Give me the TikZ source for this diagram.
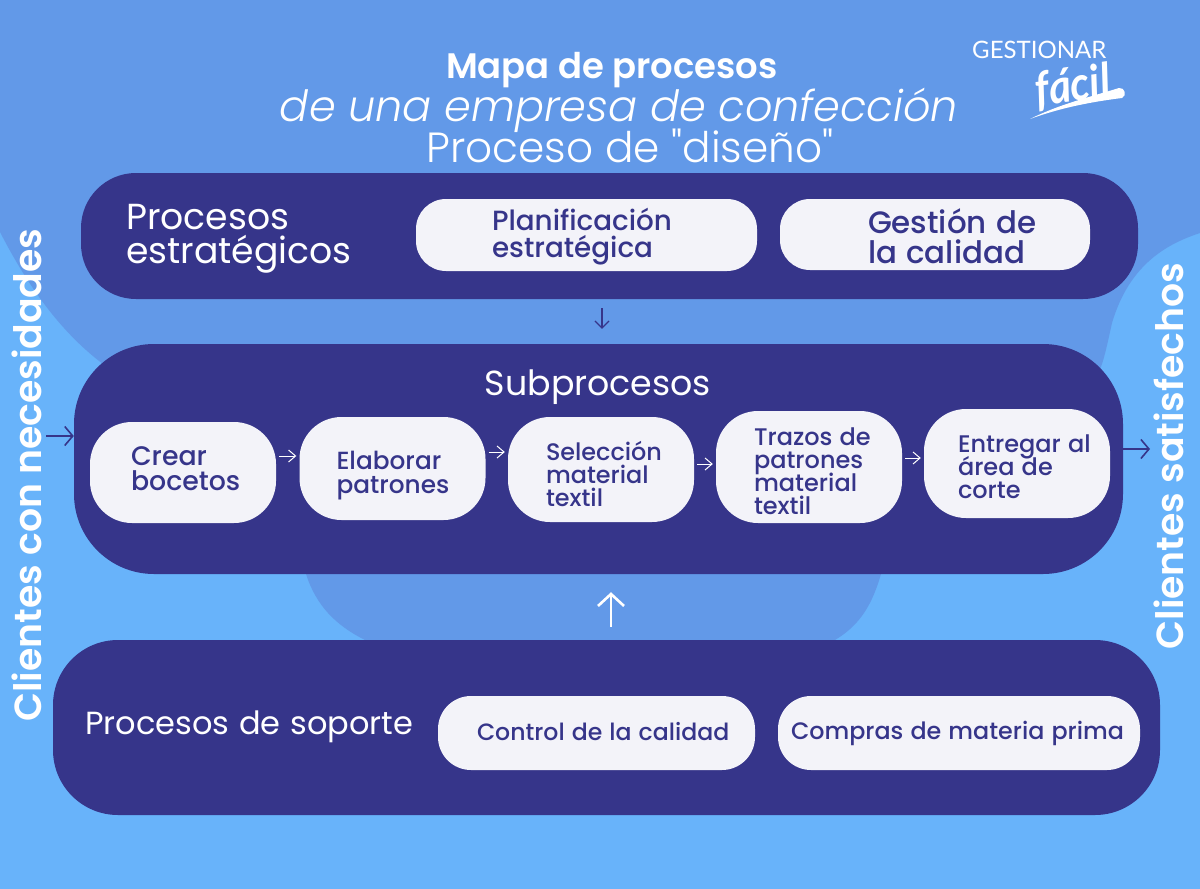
\documentclass[tikz,border=0pt]{standalone}
\usepackage{fontspec}
\usetikzlibrary{arrows.meta}
\setmainfont{Poppins}[WordSpace=1.15]
\newfontfamily\popl{Poppins}[UprightFont=* Light,ItalicFont=* Light Italic,BoldFont=* Regular]
\newfontfamily\popm{Poppins}[UprightFont=* Medium,WordSpace=1.15]
\newfontfamily\pops{Poppins}[UprightFont=* SemiBold]
\newfontfamily\logofont{Lato}
\definecolor{navy}{HTML}{36358A}
\definecolor{paper}{HTML}{F3F3F9}
\definecolor{sky}{HTML}{68B3FA}
\definecolor{mid}{HTML}{6299E8}
\newcommand{\fs}[2]{\fontsize{#1}{#2}\selectfont}
% width, left pad, vertical lift, lines
\newcommand{\lbl}[4]{\makebox[#1pt][l]{\hspace*{#2pt}\raisebox{#3pt}[0pt][0pt]{\begin{minipage}[c]{\dimexpr#1pt-#2pt\relax}\lineskiplimit=-100pt\raggedright #4\end{minipage}}}}
\tikzset{
  container/.style n args={3}{fill=navy,rounded corners=#3,inner sep=0pt,minimum width=#1,minimum height=#2},
  pill/.style n args={3}{fill=paper,text=navy,rounded corners=#3,inner sep=0pt,minimum width=#1,minimum height=#2,font=\popm},
  head/.style={text=white,inner sep=0pt,align=left,anchor=west},
  vtext/.style={text=white,inner sep=0pt,rotate=90,font=\pops\fs{37.8}{38}},
  small/.style={-{Straight Barb[length=7pt,width=12pt,line width=1pt]},white,line width=1pt,shorten >=3pt,shorten <=3pt},
  big/.style={-{Straight Barb[length=8pt,width=19pt,line width=1.6pt]},navy,line width=1.6pt},
}
\begin{document}
\begin{tikzpicture}[x=1pt,y=-1pt]
\useasboundingbox (0,0) rectangle (1200,889);
% background
\fill[sky] (0,0) rectangle (1200,889);
\fill[mid] (0,0) -- (1200,0) -- (1200,233) .. controls (1170,243) and (1130,262) .. (1112,323) .. controls (1106,350) and (1104,360) .. (1098,375)
  -- (1000,450) -- (150,450) -- (107,367) .. controls (70,340) and (35,300) .. (0,232) -- cycle;
\fill[mid] (300,560) -- (306,574) .. controls (316,605) and (335,625) .. (365,640) -- (835,640) .. controls (860,625) and (872,605) .. (881,574) -- (885,560) -- cycle;
% containers
\node[container={1057pt}{126pt}{55pt}] (strat) at (609.5,236) {};
\node[container={1049pt}{230pt}{80pt}] (sub) at (598.5,459) {};
\node[container={1107pt}{175pt}{65pt}] (sop) at (606.5,727.5) {};
% title
\node[text=white,inner sep=0pt] (t1) at (612,70) {\pops\fs{35.4}{36}Mapa de procesos};
\node[text=white,inner sep=0pt] (t2) at (619,110) {\popl\itshape\fs{43}{44}de una empresa de confección};
\node[text=white,inner sep=0pt] (t3) at (630,146) {\popl\fs{42.2}{44}Proceso de "diseño"};
% logo
\node[text=white,inner sep=0pt,anchor=base west] (lg) at (972,58) {\logofont\fs{24}{24}GESTIONAR};
\node[text=white,inner sep=0pt,rotate=8,xscale=.9] (lf) at (1073,87) {\logofont\bfseries\itshape\fs{47}{47}fácil};
\fill[white] (1030,119) .. controls (1060,104) and (1090,97) .. (1119,88) .. controls (1125,87) and (1127,96) .. (1122,98) .. controls (1090,102) and (1060,108) .. (1030,119) -- cycle;
% headings
\node[head,font=\fs{36.2}{34}] (hs) at (126,239) {Procesos\\estratégicos};
\node[text=white,inner sep=0pt,font=\fs{34.8}{34}] (hu) at (598,387) {Subprocesos};
\node[head,font=\fs{32}{30}] (ho) at (85,727) {Procesos de soporte};
% strategic pills
\node[pill={341pt}{72pt}{30pt}] (plan) at (586.5,235) {\fs{27.8}{27}\lbl{341}{76}{-7.5}{Planificación\\estratégica}};
\node[pill={310pt}{71pt}{30pt}] (gest) at (935,234.5) {\fs{30.9}{30}\lbl{310}{88}{-8}{Gestión de\\la calidad}};
% subprocess pills
\node[pill={186pt}{101pt}{42pt}] (crear) at (183,472.5) {\fs{26.8}{25}\lbl{186}{41}{-2}{Crear\\bocetos}};
\node[pill={186pt}{103pt}{42pt}] (elab) at (392.5,468.5) {\fs{24.8}{24}\lbl{186}{37}{-13}{Elaborar\\patrones}};
\node[pill={186pt}{105pt}{42pt}] (sel) at (601,469.5) {\fs{23.9}{23}\lbl{186}{38}{-11}{Selección\\material\\textil}};
\node[pill={186pt}{112pt}{42pt}] (traz) at (809,467) {\fs{24}{23}\lbl{186}{38}{-10}{Trazos de\\patrones\\material\\textil}};
\node[pill={186pt}{109pt}{42pt}] (entr) at (1017,463.5) {\fs{24}{23}\lbl{186}{34}{-9}{Entregar al\\área de\\corte}};
% support pills
\node[pill={317pt}{74pt}{33pt}] (ctrl) at (596.5,733) {\fs{23.6}{24}\lbl{317}{39}{-5}{Control de la calidad}};
\node[pill={362pt}{74pt}{33pt}] (comp) at (959,733) {\fs{23.8}{24}\lbl{362}{13}{-6.5}{Compras de materia prima}};
% side labels
\node[vtext] (cn) at (27,475) {Clientes con necesidades};
\node[vtext] (cs) at (1169,456) {Clientes satisfechos};
% connectors
\coordinate (inL) at (46,436);
\coordinate (outR) at (1150,449);
\draw[big] (inL) -- (inL -| sub.west);
\draw[big] (sub.east |- outR) -- (outR);
\draw[small] (crear.east |- 0,456) -- (elab.west |- 0,456);
\draw[small] (elab.east |- 0,452) -- (sel.west |- 0,452);
\draw[small] (sel.east |- 0,464) -- (traz.west |- 0,464);
\draw[small] (traz.east |- 0,458) -- (entr.west |- 0,458);
\draw[-{Straight Barb[length=7pt,width=14pt,line width=1.2pt]},navy,line width=1.2pt,shorten >=15pt,shorten <=9pt] (strat.south -| 602,0) -- (sub.north -| 602,0);
\draw[-{Straight Barb[length=12pt,width=26pt,line width=2.6pt]},white,line width=2.6pt,shorten >=18pt,shorten <=13pt] (sop.north -| 611,0) -- (sub.south -| 611,0);
\end{tikzpicture}
\end{document}
